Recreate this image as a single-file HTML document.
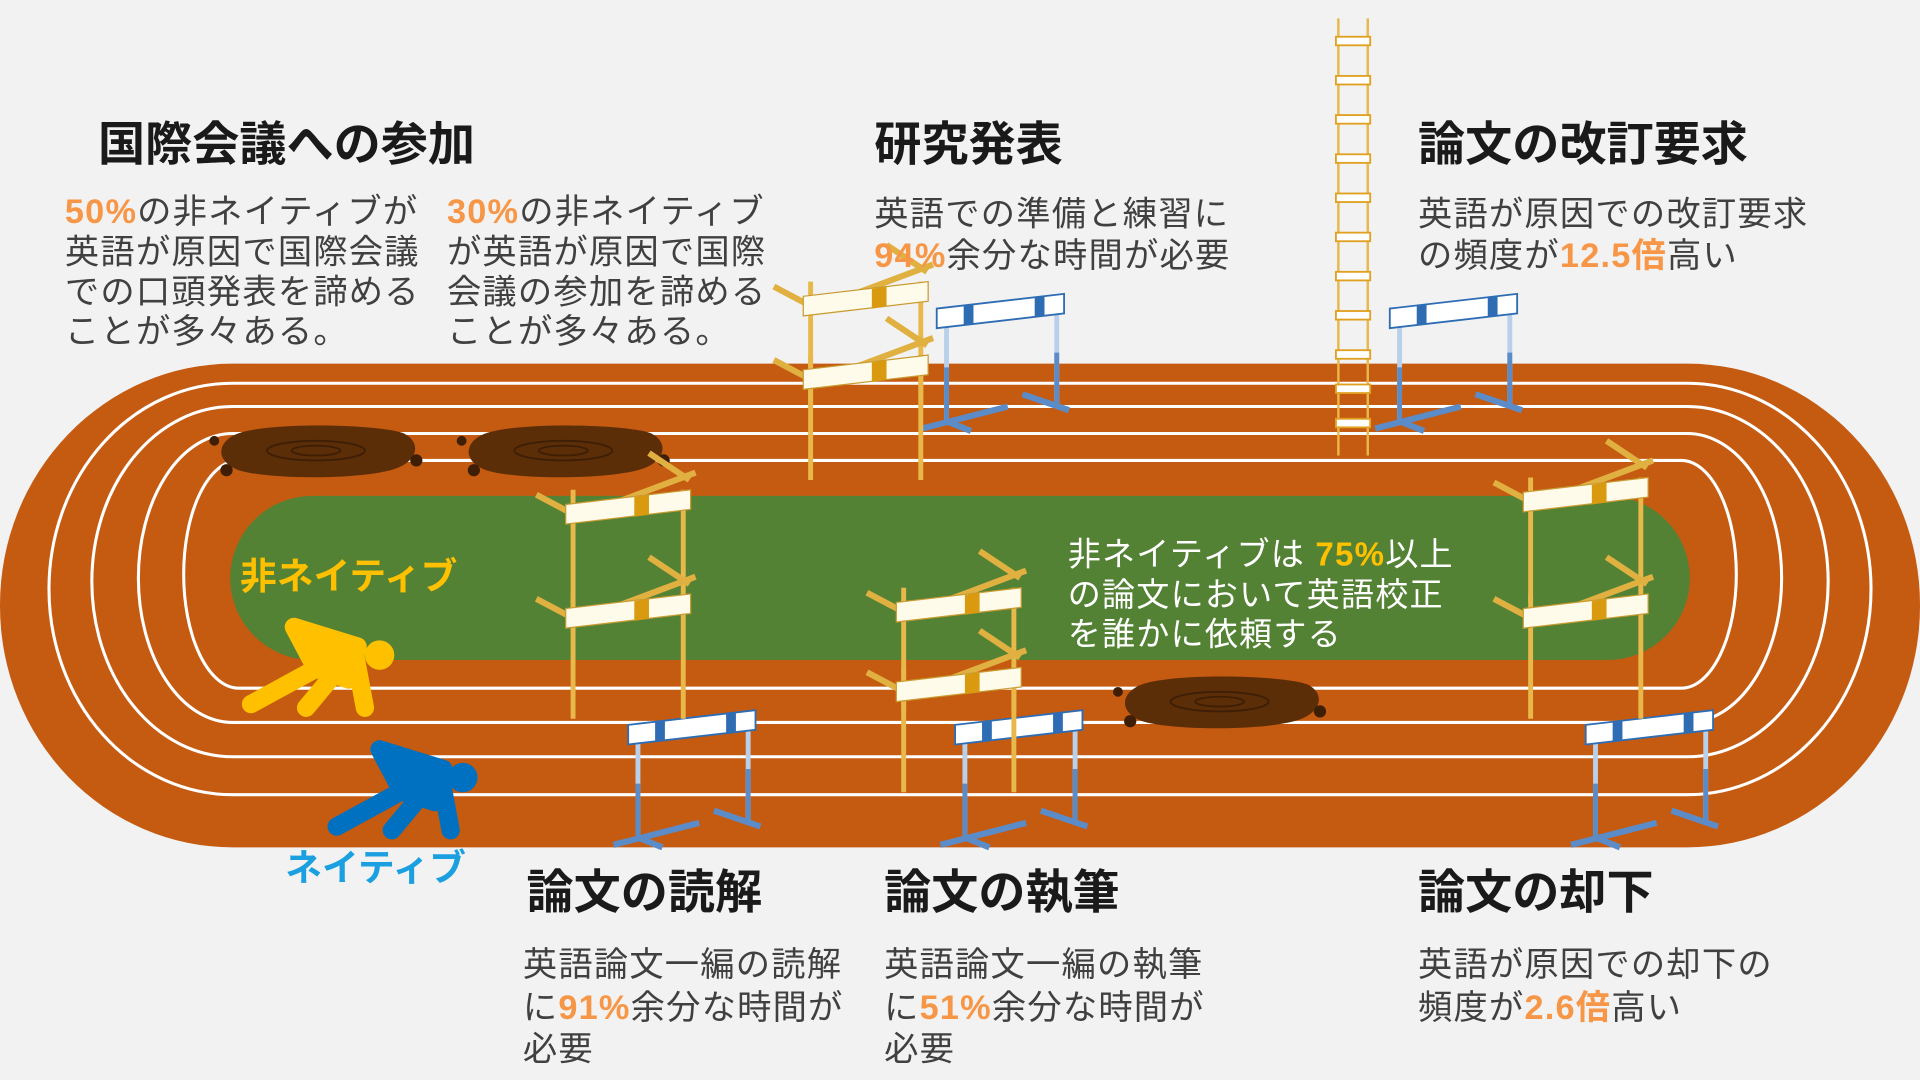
<!DOCTYPE html>
<html><head><meta charset="utf-8"><style>
html,body{margin:0;padding:0;background:#f2f2f2;}
svg{display:block}
text{font-family:"Liberation Sans","Noto Sans CJK JP",sans-serif;}
.t{font-size:38.5px;font-weight:bold;fill:#1a1a1a}
.p{font-size:28px;fill:#404040;letter-spacing:1px}
.o{fill:#f79646;font-weight:bold}
.w{font-size:27px;fill:#fff;letter-spacing:1px}
</style></head><body>
<svg width="1920" height="1080" viewBox="0 0 1568 882" xmlns="http://www.w3.org/2000/svg">
<defs>
<g id="bh">
 <line x1="8" y1="26" x2="8" y2="104" stroke="#b9d0ea" stroke-width="4"/>
 <line x1="98" y1="14" x2="98" y2="92" stroke="#b9d0ea" stroke-width="4"/>
 <line x1="8" y1="60" x2="8" y2="104" stroke="#5b8cc8" stroke-width="4"/>
 <line x1="98" y1="48" x2="98" y2="92" stroke="#5b8cc8" stroke-width="4"/>
 <line x1="-12" y1="110" x2="58" y2="92" stroke="#5b8cc8" stroke-width="5"/>
 <line x1="8" y1="104" x2="28" y2="112" stroke="#5b8cc8" stroke-width="5"/>
 <line x1="70" y1="82" x2="108" y2="95" stroke="#5b8cc8" stroke-width="5"/>
 <polygon points="0,12 104,0 104,16 0,28" fill="#fff" stroke="#2e6db4" stroke-width="1.5"/>
 <polygon points="22,10 30,9 30,25 22,26" fill="#2e6db4"/>
 <polygon points="80,3 88,2 88,18 80,19" fill="#2e6db4"/>
</g>
<g id="yf">
 <line x1="0" y1="-10" x2="0" y2="92" stroke="#e8b84a" stroke-width="4"/>
 <line x1="90" y1="-10" x2="90" y2="92" stroke="#e8b84a" stroke-width="4"/>
 <line x1="-30" y1="-6" x2="4" y2="12" stroke="#e0b040" stroke-width="5"/>
 <line x1="4" y1="12" x2="100" y2="-24" stroke="#e0b040" stroke-width="5"/>
 <line x1="62" y1="-40" x2="95" y2="-18" stroke="#e0b040" stroke-width="5"/>
 <polygon points="-6,2 96,-10 96,6 -6,18" fill="#fffbea" stroke="#c89b30" stroke-width="1"/>
 <polygon points="50,-4 62,-6 62,10 50,12" fill="#d99a10"/>
</g>
<g id="mud">
 <path d="M10,8 C30,-4 130,-2 150,6 C165,14 160,28 145,34 C120,44 40,44 15,36 C-2,30 -4,16 10,8Z" fill="#5c2e08"/>
 <ellipse cx="78" cy="20" rx="40" ry="8" fill="none" stroke="#3e1f05" stroke-width="1.5"/>
 <ellipse cx="78" cy="20" rx="20" ry="4" fill="none" stroke="#3e1f05" stroke-width="1.5"/>
 <circle cx="-5" cy="12" r="4" fill="#3e1f05"/><circle cx="160" cy="28" r="5" fill="#3e1f05"/><circle cx="5" cy="36" r="5" fill="#3e1f05"/>
</g>
</defs>
<rect x="0" y="297" width="1568" height="395" rx="190" ry="197" fill="#c55a11"/>
<rect x="40" y="313" width="1488" height="336" rx="150" ry="168" fill="none" stroke="#fff" stroke-width="2.5"/>
<rect x="75" y="332" width="1418" height="286" rx="115" ry="143" fill="none" stroke="#fff" stroke-width="2.5"/>
<rect x="113" y="354" width="1342" height="236" rx="77" ry="118" fill="none" stroke="#fff" stroke-width="2.5"/>
<rect x="150" y="376" width="1268" height="186" rx="45" ry="93" fill="#c55a11" stroke="#fff" stroke-width="2.5"/>
<rect x="188" y="405" width="1192" height="134" rx="67" ry="67" fill="#548235"/>
<use href="#mud" x="180" y="348"/><use href="#mud" x="382" y="348"/><use href="#mud" x="918" y="553"/>
<g stroke="#e8b84a" stroke-width="2" fill="none">
 <line x1="1093" y1="15" x2="1093" y2="372"/><line x1="1117" y1="15" x2="1117" y2="372"/>
</g>
<g fill="#fff" stroke="#e0a020" stroke-width="1.5">
 <rect x="1091" y="30" width="28" height="7"/><rect x="1091" y="62" width="28" height="7"/><rect x="1091" y="94" width="28" height="7"/><rect x="1091" y="126" width="28" height="7"/><rect x="1091" y="158" width="28" height="7"/><rect x="1091" y="190" width="28" height="7"/><rect x="1091" y="222" width="28" height="7"/><rect x="1091" y="254" width="28" height="7"/><rect x="1091" y="286" width="28" height="7"/><rect x="1091" y="314" width="28" height="7"/><rect x="1091" y="342" width="28" height="7"/>
</g>
<use href="#bh" x="765" y="240"/>
<use href="#bh" x="1135" y="240"/>
<use href="#bh" x="513" y="580"/>
<use href="#bh" x="780" y="580"/>
<use href="#bh" x="1295" y="580"/>
<use href="#yf" x="662" y="240"/><use href="#yf" x="662" y="300"/>
<use href="#yf" x="468" y="410"/><use href="#yf" x="468" y="495"/>
<use href="#yf" x="738" y="490"/><use href="#yf" x="738" y="555" />
<use href="#yf" x="1250" y="400"/><use href="#yf" x="1250" y="495"/>
<g fill="#ffc000" stroke="#ffc000" stroke-width="15" stroke-linecap="round" stroke-linejoin="round">
 <polygon points="240,512 292,528 285,555 258,546" />
 <line x1="260" y1="545" x2="205" y2="575"/>
 <line x1="275" y1="548" x2="250" y2="578"/>
 <line x1="290" y1="535" x2="298" y2="578"/>
 <circle cx="310" cy="535" r="9" stroke-width="6"/>
</g>
<g fill="#0070c0" stroke="#0070c0" stroke-width="15" stroke-linecap="round" stroke-linejoin="round">
 <polygon points="310,612 362,628 355,655 328,646" />
 <line x1="330" y1="645" x2="275" y2="675"/>
 <line x1="345" y1="648" x2="320" y2="678"/>
 <line x1="360" y1="635" x2="368" y2="678"/>
 <circle cx="378" cy="635" r="9" stroke-width="6"/>
</g>
<text x="80" y="131" class="t">国際会議への参加</text>
<text class="p"><tspan x="53" y="182"><tspan class="o">50%</tspan>の非ネイティブが</tspan><tspan x="53" y="215">英語が原因で国際会議</tspan><tspan x="53" y="248">での口頭発表を諦める</tspan><tspan x="53" y="280">ことが多々ある。</tspan></text>
<text class="p"><tspan x="365" y="182"><tspan class="o">30%</tspan>の非ネイティブ</tspan><tspan x="365" y="215">が英語が原因で国際</tspan><tspan x="365" y="248">会議の参加を諦める</tspan><tspan x="365" y="280">ことが多々ある。</tspan></text>
<text x="714" y="131" class="t">研究発表</text>
<text class="p"><tspan x="714" y="184">英語での準備と練習に</tspan><tspan x="714" y="218"><tspan class="o">94%</tspan>余分な時間が必要</tspan></text>
<text x="1158" y="131" class="t">論文の改訂要求</text>
<text class="p"><tspan x="1158" y="184">英語が原因での改訂要求</tspan><tspan x="1158" y="218">の頻度が<tspan class="o">12.5倍</tspan>高い</tspan></text>
<text x="430" y="742" class="t">論文の読解</text>
<text class="p"><tspan x="427" y="797">英語論文一編の読解</tspan><tspan x="427" y="832">に<tspan class="o">91%</tspan>余分な時間が</tspan><tspan x="427" y="866">必要</tspan></text>
<text x="722" y="742" class="t">論文の執筆</text>
<text class="p"><tspan x="722" y="797">英語論文一編の執筆</tspan><tspan x="722" y="832">に<tspan class="o">51%</tspan>余分な時間が</tspan><tspan x="722" y="866">必要</tspan></text>
<text x="1158" y="742" class="t">論文の却下</text>
<text class="p"><tspan x="1158" y="797">英語が原因での却下の</tspan><tspan x="1158" y="832">頻度が<tspan class="o">2.6倍</tspan>高い</tspan></text>
<text class="w"><tspan x="872" y="462">非ネイティブは <tspan fill="#ffc000" font-weight="bold">75%</tspan>以上</tspan><tspan x="872" y="495">の論文において英語校正</tspan><tspan x="872" y="527">を誰かに依頼する</tspan></text>
<text x="196" y="481" font-size="30" font-weight="bold" fill="#ffc000">非ネイティブ</text>
<text x="233" y="719" font-size="30" font-weight="bold" fill="#1aa0e0">ネイティブ</text>
</svg>
</body></html>
